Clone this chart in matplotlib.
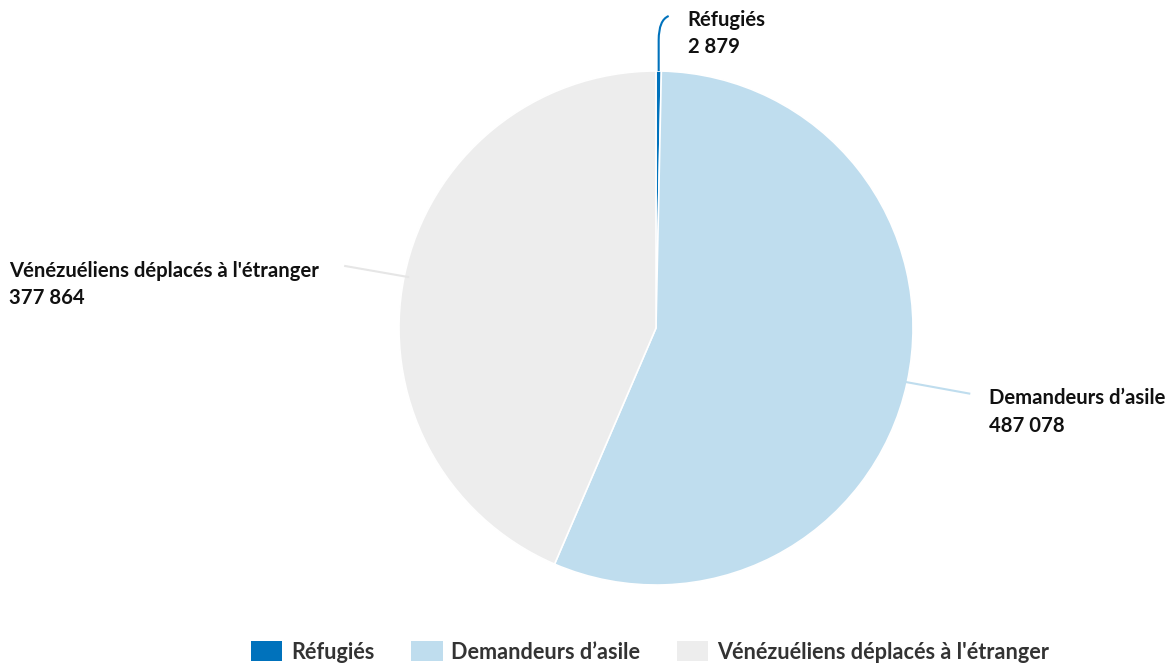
import numpy as np
import matplotlib
matplotlib.use("Agg")
import matplotlib.pyplot as plt
from matplotlib.patches import Patch
from matplotlib.path import Path
from matplotlib.patches import PathPatch

categories = ["Réfugiés", "Demandeurs d’asile", "Vénézuéliens déplacés à l'étranger"]
values = [2879, 487078, 377864]
value_labels = ["2 879", "487 078", "377 864"]
colors = ["#0072BC", "#BFDDEE", "#EDEDED"]

plt.rcParams['font.family'] = ['Lato', 'DejaVu Sans']

W, H = 1172, 668
fig = plt.figure(figsize=(W / 100, H / 100), dpi=100)
ax = fig.add_axes([0, 0, 1, 1])
ax.set_xlim(0, W)
ax.set_ylim(0, H)
ax.axis('off')

cx, cy, R = 656, H - 328, 257
wedges, _ = ax.pie(values, colors=colors, startangle=90, counterclock=False,
                   center=(cx, cy), radius=R,
                   wedgeprops=dict(edgecolor='white', linewidth=1.2))
ax.set_xlim(0, W)
ax.set_ylim(0, H)
ax.set_aspect('equal')

total = sum(values)
cum = np.cumsum([0] + values)
mids = [90 - 360 * (cum[i] + values[i] / 2) / total for i in range(len(values))]

def edge_pt(ang, r=R):
    a = np.deg2rad(ang)
    return cx + r * np.cos(a), cy + r * np.sin(a)

txt_kw = dict(fontsize=14.6, fontweight='bold', color='#111111', linespacing=1.45)

# Réfugiés
x0, y0 = edge_pt(mids[0])
verts = [(x0, y0), (x0, H - 40), (x0, H - 20), (x0 + 10, H - 16)]
codes = [Path.MOVETO, Path.LINETO, Path.CURVE3, Path.CURVE3]
ax.add_patch(PathPatch(Path(verts, codes), fill=False, edgecolor=colors[0], lw=1.5))
ax.text(x0 + 29, H - 33.5, f"{categories[0]}\n{value_labels[0]}", ha='left', va='center', **txt_kw)

# Demandeurs d'asile
x1, y1 = edge_pt(mids[1], R - 4)
ax.plot([x1, x1 + 66], [y1, y1 - 12], color=colors[1], lw=1.5)
ax.text(x1 + 86, y1 - 30.5, f"{categories[1]}\n{value_labels[1]}", ha='left', va='center', **txt_kw)

# Vénézuéliens
x2, y2 = edge_pt(mids[2], R - 4)
ax.plot([x2, x2 - 63], [y2, y2 + 11], color='#E6E6E6', lw=1.5)
ax.text(x2 - 89, y2 - 7.5, f"{categories[2]}\n{value_labels[2]}", ha='right', va='center',
        multialignment='left', **txt_kw)

handles = [Patch(facecolor=c, edgecolor='none') for c in colors]
leg = fig.legend(handles, categories, loc='center', bbox_to_anchor=(650 / W, 1 - 652 / H),
                 ncol=3, frameon=False, handlelength=1.45, handleheight=1.05,
                 columnspacing=1.7, handletextpad=0.4,
                 prop=dict(family=['Lato', 'DejaVu Sans'], weight='bold', size=15.6))
for t in leg.get_texts():
    t.set_color('#333333')

fig.savefig("out.png", dpi=100)
